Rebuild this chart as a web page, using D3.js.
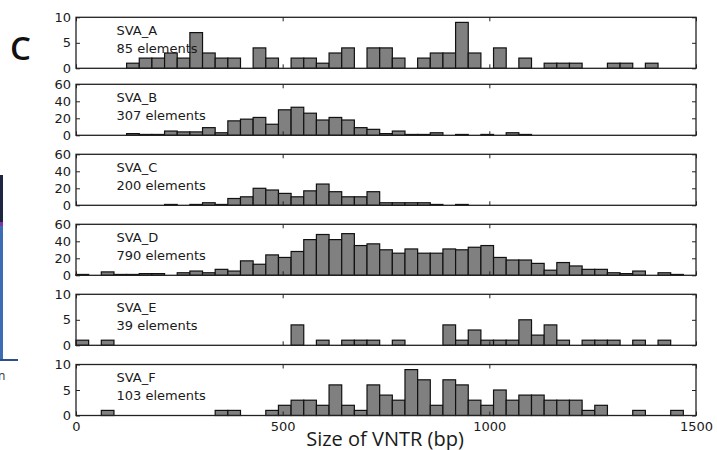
<!DOCTYPE html>
<html><head><meta charset="utf-8">
<script src="https://cdn.jsdelivr.net/npm/d3@7"></script>
<style>body{margin:0;background:#fff}svg{display:block}</style>
</head><body>
<svg id="c" width="717" height="450"></svg>
<script>
// ---- data ----
const panelNames = ["SVA_A","SVA_B","SVA_C","SVA_D","SVA_E","SVA_F"];
const elementCounts = [85,307,200,790,39,103];
const yMaxes = [10,60,60,60,10,10];
const yTicksSmall = [0,5,10];
const yTicksLarge = [0,20,40,60];
const xTicks = [0,500,1000,1500];
const xDomain = [0,1500];
const binCount = 49;
const countsA = [0,0,0,0,1,2,2,3,2,7, 3,2,2,0,4,2,0,2,2,1, 3,4,0,4,4,2,0,2,3,3, 9,3,0,4,0,2,0,1,1,1, 0,0,1,1,0,1,0,0,0];
const countsB = [0,0,0,0,2,1,1,5,4,4, 9,3,17,19,21,13,30,33,26,18, 21,18,9,7,2,5,1,1,3,0, 1,0,1,0,3,1,0,0,0,0, 0,0,0,0,0,0,0,0,0];
const countsC = [0,0,0,0,0,0,0,1,0,1, 3,1,8,10,20,18,14,10,17,25, 16,10,10,16,3,3,3,3,1,0, 1,0,0,0,0,0,0,0,0,0, 0,0,0,0,0,0,0,0,0];
const countsD = [1,0,4,1,1,2,2,0,3,5, 3,7,5,17,13,24,21,28,42,48, 42,49,35,37,30,26,31,26,26,31, 30,33,35,21,18,18,14,6,15,11, 7,7,3,2,5,0,3,1,0];
const countsE = [1,0,1,0,0,0,0,0,0,0, 0,0,0,0,0,0,0,4,0,1, 0,1,1,1,0,1,0,0,0,4, 1,3,1,1,1,5,2,4,1,0, 1,1,1,0,1,0,1,0,0];
const countsF = [0,0,1,0,0,0,0,0,0,0, 0,1,1,0,0,1,2,3,3,2, 6,2,1,6,4,3,9,7,2,7, 6,3,2,5,3,4,4,3,3,3, 1,2,0,0,1,0,0,1,0];
const allCounts = [countsA,countsB,countsC,countsD,countsE,countsF];
const xLabel = "Size of VNTR (bp)";
const panelLetter = "C";

// ---- layout ----
const svg = d3.select("#c");
const left = 76, right = 696;
const panelTops = [17.3, 84.3, 154.3, 224.3, 294.3, 364.5];
const panelH = 51;
const x = d3.scaleLinear().domain(xDomain).range([left, right]);
const binW = (xDomain[1]-xDomain[0]) / binCount;
const font = "'DejaVu Sans', sans-serif";

// left-edge fragment of neighbouring figure
const frag = svg.append("g");
frag.append("rect").attr("x",0).attr("y",175).attr("width",3).attr("height",47).attr("fill","#1d2540");
frag.append("rect").attr("x",0).attr("y",222).attr("width",3).attr("height",4).attr("fill","#7a35a8");
frag.append("rect").attr("x",0).attr("y",226).attr("width",3).attr("height",134).attr("fill","#3b6cb4");
frag.append("rect").attr("x",0).attr("y",359).attr("width",18).attr("height",2).attr("fill","#2a4f8a");
frag.append("text").attr("x",-2).attr("y",380).attr("font-family","'Open Sans', sans-serif").attr("font-size",12).attr("fill","#333").text("n");

allCounts.forEach((counts, i) => {
  const top = panelTops[i], bottom = top + panelH;
  const y = d3.scaleLinear().domain([0, yMaxes[i]]).range([bottom, top]);
  const g = svg.append("g");
  const bins = counts.map((v,k)=>({x0:k*binW, x1:(k+1)*binW, v})).filter(d=>d.v>0);
  g.selectAll("rect.bar").data(bins).join("rect").attr("class","bar")
    .attr("x", d=>x(d.x0)).attr("width", d=>x(d.x1)-x(d.x0))
    .attr("y", d=>y(d.v)).attr("height", d=>y(0)-y(d.v))
    .attr("fill","#808080").attr("stroke","#111").attr("stroke-width",1.2);
  // frame
  g.append("rect").attr("x",left).attr("y",top).attr("width",right-left).attr("height",panelH)
    .attr("fill","none").attr("stroke","#222").attr("stroke-width",1.3);
  const ticks = yMaxes[i] === 10 ? yTicksSmall : yTicksLarge;
  const ya = g.append("g").attr("transform",`translate(${left},0)`)
    .call(d3.axisLeft(y).tickValues(ticks).tickSize(-4).tickPadding(5));
  const yr = g.append("g").attr("transform",`translate(${right},0)`)
    .call(d3.axisRight(y).tickValues(ticks).tickSize(-4).tickFormat(""));
  const xt = g.append("g").attr("transform",`translate(0,${top})`)
    .call(d3.axisTop(x).tickValues(xTicks).tickSize(-4).tickFormat(""));
  const xb = g.append("g").attr("transform",`translate(0,${bottom})`)
    .call(d3.axisBottom(x).tickValues(xTicks).tickSize(-4).tickPadding(6.5)
      .tickFormat(i === allCounts.length-1 ? d3.format("d") : ""));
  [ya,yr,xt,xb].forEach(a => {
    a.select(".domain").remove();
    a.selectAll("line").attr("stroke","#222");
    a.selectAll("text").attr("font-family",font).attr("font-size",13).attr("fill","#1a1a1a");
  });
  g.append("text").attr("x",116.5).attr("y",top+17.5).attr("font-family",font).attr("font-size",13).attr("fill","#1a1a1a").text(panelNames[i]);
  g.append("text").attr("x",116.5).attr("y",top+35.5).attr("font-family",font).attr("font-size",13).attr("fill","#1a1a1a").text(elementCounts[i] + " elements");
});

svg.append("text").attr("x",385).attr("y",446).attr("text-anchor","middle")
  .attr("font-family","'Open Sans', sans-serif").attr("font-size",20).attr("fill","#1a1a1a").text(xLabel);
svg.append("text").attr("x",10).attr("y",60)
  .attr("font-family","'Open Sans', sans-serif").attr("font-size",33).attr("font-weight",600).attr("fill","#111").text(panelLetter);
</script>
</body></html>
